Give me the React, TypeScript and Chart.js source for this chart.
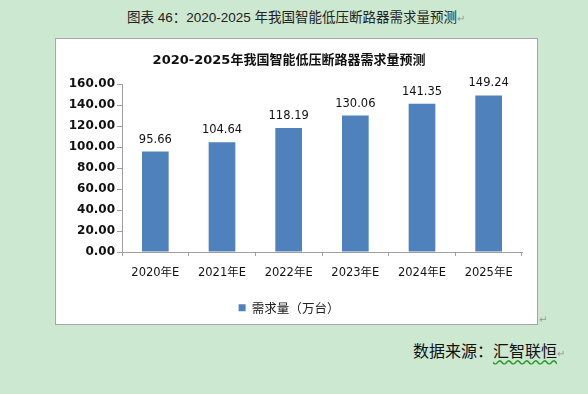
import React, { useEffect, useRef } from "react";
import { Chart, registerables } from "chart.js";

Chart.register(...registerables);

const categories = ["2020年E", "2021年E", "2022年E", "2023年E", "2024年E", "2025年E"];
const demand = [95.66, 104.64, 118.19, 130.06, 141.35, 149.24];
const seriesName = "需求量（万台）";
const chartTitle = "2020-2025年我国智能低压断路器需求量预测";
const pageTitle = "图表 46：2020-2025 年我国智能低压断路器需求量预测";
const sourcePrefix = "数据来源：";
const sourceName = "汇智联恒";

const NUM_FONT = "'DejaVu Sans', 'Noto Sans CJK SC', sans-serif";

const dataLabelPlugin = {
  id: "dataLabels",
  afterDatasetsDraw(chart: any) {
    const ctx = chart.ctx;
    const meta = chart.getDatasetMeta(0);
    ctx.save();
    ctx.font = `11.5px ${NUM_FONT}`;
    ctx.fillStyle = "#111";
    ctx.textAlign = "center";
    ctx.textBaseline = "alphabetic";
    meta.data.forEach((el: any, i: number) => {
      const v = chart.data.datasets[0].data[i] as number;
      ctx.fillText(v.toFixed(2), el.x, el.y - 9);
    });
    ctx.restore();
  },
};

export default function App() {
  const ref = useRef<HTMLCanvasElement>(null);

  useEffect(() => {
    if (!ref.current) return;
    const chart = new Chart(ref.current, {
      type: "bar",
      data: {
        labels: categories,
        datasets: [
          {
            label: seriesName,
            data: demand,
            backgroundColor: "#4f81bd",
            borderWidth: 0,
            categoryPercentage: 1,
            barPercentage: 0.4,
          },
        ],
      },
      options: {
        responsive: false,
        animation: false,
        events: [],
        layout: { padding: { left: 0, right: 15, top: 0, bottom: 0 } },
        plugins: {
          tooltip: { enabled: false },
          title: {
            display: true,
            text: chartTitle,
            color: "#111",
            font: { family: NUM_FONT, size: 13, weight: "bold" },
            padding: { top: 14, bottom: 15.5 },
          },
          legend: {
            display: true,
            position: "bottom",
            labels: {
              color: "#222",
              font: { family: "'Noto Sans CJK SC', sans-serif", size: 12.5 },
              boxWidth: 7,
              boxHeight: 7,
              padding: 3,
            },
          },
        },
        scales: {
          x: {
            afterFit: (s: any) => {
              s.height = 46.5;
            },
            grid: {
              display: true,
              drawOnChartArea: false,
              drawTicks: true,
              tickLength: 4,
              color: "#a0a0a0",
            },
            border: { color: "#a0a0a0", width: 1 },
            ticks: {
              color: "#111",
              font: { family: NUM_FONT, size: 11.5 },
              padding: 10,
              maxRotation: 0,
            },
          },
          y: {
            min: 0,
            max: 160,
            afterFit: (s: any) => {
              s.width = 66;
            },
            grid: {
              display: true,
              drawOnChartArea: false,
              drawTicks: true,
              tickLength: 5,
              color: "#a0a0a0",
            },
            border: { color: "#a0a0a0", width: 1 },
            ticks: {
              stepSize: 20,
              color: "#111",
              font: { family: NUM_FONT, size: 12, weight: "bold" },
              padding: 2,
              callback: (v: any) => Number(v).toFixed(2),
            },
          },
        },
      },
      plugins: [dataLabelPlugin],
    } as any);
    return () => chart.destroy();
  }, []);

  return (
    <div
      style={{
        position: "fixed",
        left: 0,
        top: 0,
        width: 588,
        height: 394,
        background: "#cde8d0",
        overflow: "hidden",
      }}
    >
      <div
        style={{
          position: "absolute",
          left: 127,
          top: 9,
          lineHeight: "18px",
          fontSize: 13.5,
          fontFamily: "'Liberation Sans', 'Noto Sans CJK SC', sans-serif",
          color: "#222",
          whiteSpace: "nowrap",
        }}
      >
        {pageTitle}
        <span style={{ color: "#999", fontSize: 10 }}>↵</span>
      </div>
      <div
        style={{
          position: "absolute",
          left: 55,
          top: 38,
          width: 483,
          height: 287,
          boxSizing: "border-box",
          border: "1px solid #a6a6a6",
          background: "#ffffff",
        }}
      >
        <canvas ref={ref} width={481} height={285} style={{ display: "block", width: 481, height: 285 }} />
      </div>
      <div
        style={{
          position: "absolute",
          left: 539,
          top: 314,
          color: "#999",
          fontSize: 10,
          fontFamily: "'DejaVu Sans', sans-serif",
        }}
      >
        ↵
      </div>
      <div
        style={{
          position: "absolute",
          left: 413,
          top: 340,
          lineHeight: "20px",
          fontSize: 16,
          fontFamily: "'Noto Sans CJK SC', sans-serif",
          color: "#111",
          whiteSpace: "nowrap",
        }}
      >
        {sourcePrefix}
        <span
          style={{
            textDecorationLine: "underline",
            textDecorationStyle: "wavy",
            textDecorationColor: "#2e9e2e",
            textUnderlineOffset: 2,
          }}
        >
          {sourceName}
        </span>
        <span style={{ color: "#999", fontSize: 10 }}>↵</span>
      </div>
    </div>
  );
}
